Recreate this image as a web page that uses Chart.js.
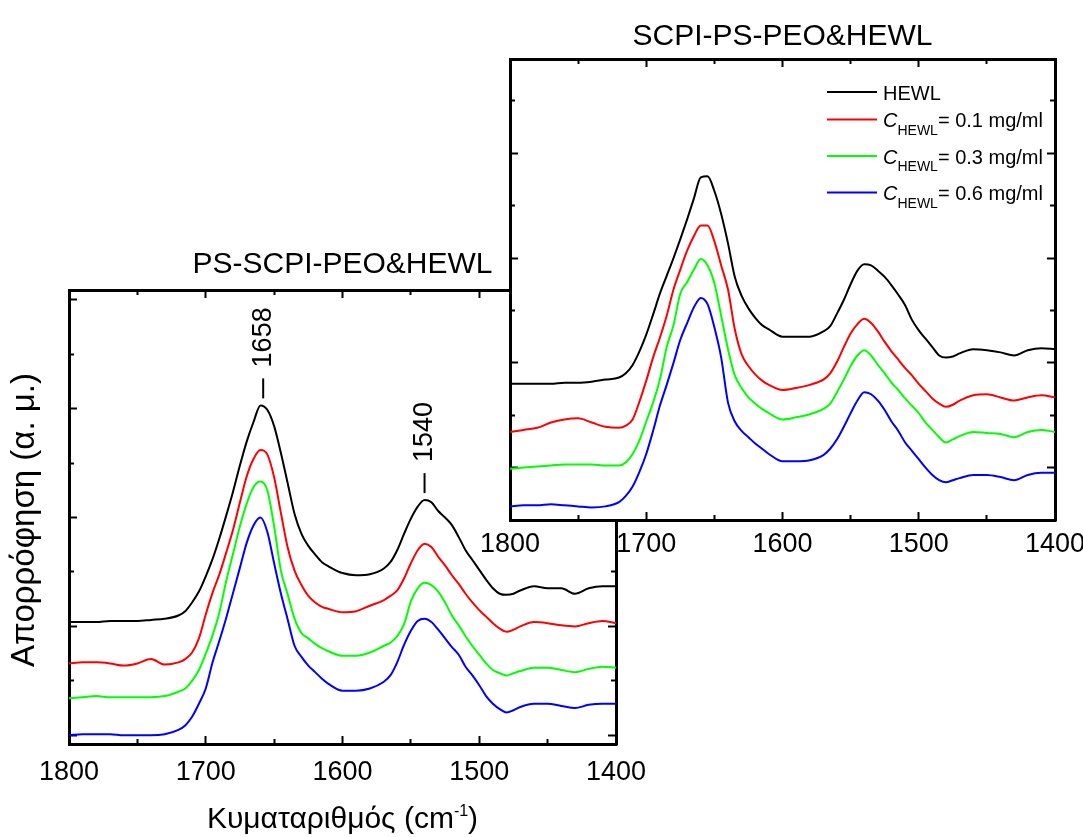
<!DOCTYPE html>
<html lang="el">
<head>
<meta charset="utf-8">
<title>FTIR HEWL</title>
<script src="https://cdn.jsdelivr.net/npm/chart.js@4.4.1/dist/chart.umd.min.js"></script>
<style>
  html, body { margin: 0; padding: 0; background: #fff; overflow: hidden; }
  #wrap { position: relative; width: 1083px; height: 837px; overflow: hidden; }
  #wrap canvas { position: absolute; left: 0; top: 0; }
</style>
</head>
<body>
<div id="wrap">
  <canvas id="chart-left" width="1083" height="837"></canvas>
  <canvas id="chart-right" width="1150" height="837"></canvas>
</div>
<script>
// ===== DATA =====

const wavenumbers = [
  1800, 1790, 1780, 1770, 1760, 1750, 1740, 1730, 1720,
  1715, 1710, 1705, 1700, 1695, 1690, 1685, 1680, 1675, 1670, 1665, 1660, 1655, 1650, 1645, 1640, 1635, 1630, 1625, 1620, 1615, 1610,
  1600, 1590, 1580, 1570,
  1565, 1560, 1555, 1550, 1545, 1540, 1535, 1530, 1525, 1520, 1515, 1510, 1505, 1500, 1495, 1490, 1485, 1480, 1475, 1470,
  1460, 1450, 1440, 1430, 1420, 1410, 1400,
];

// PS-SCPI-PEO&HEWL (left panel)
const leftHewl = [
  1.04, 1.04, 1.04, 1.05, 1.05, 1.05, 1.06, 1.07, 1.10,
  1.14, 1.22, 1.32, 1.46, 1.62, 1.81, 2.02, 2.24, 2.48, 2.70, 2.88, 3.03, 2.99, 2.84, 2.59, 2.31, 2.03, 1.85, 1.74, 1.66, 1.59, 1.55,
  1.49, 1.47, 1.48, 1.53,
  1.59, 1.70, 1.85, 1.99, 2.10, 2.16, 2.14, 2.06, 2.00, 1.93, 1.82, 1.70, 1.61, 1.52, 1.43, 1.35, 1.30, 1.29, 1.30, 1.33,
  1.37, 1.35, 1.35, 1.30, 1.35, 1.37, 1.37,
];
const leftC01 = [
  0.66, 0.67, 0.67, 0.66, 0.64, 0.66, 0.70, 0.65, 0.67,
  0.70, 0.76, 0.89, 1.11, 1.31, 1.48, 1.68, 1.89, 2.14, 2.38, 2.54, 2.62, 2.58, 2.37, 2.04, 1.72, 1.51, 1.38, 1.28, 1.22, 1.18, 1.16,
  1.13, 1.14, 1.19, 1.24,
  1.28, 1.33, 1.44, 1.58, 1.70, 1.76, 1.73, 1.64, 1.56, 1.47, 1.39, 1.30, 1.22, 1.15, 1.09, 1.03, 0.98, 0.95, 0.97, 1.00,
  1.04, 1.03, 1.01, 1.00, 1.03, 1.05, 1.03,
];
const leftC03 = [
  0.34, 0.35, 0.36, 0.35, 0.35, 0.35, 0.35, 0.36, 0.40,
  0.43, 0.50, 0.60, 0.75, 0.92, 1.13, 1.42, 1.67, 1.92, 2.13, 2.28, 2.33, 2.25, 1.92, 1.51, 1.29, 1.07, 0.94, 0.89, 0.84, 0.80, 0.77,
  0.73, 0.73, 0.76, 0.82,
  0.85, 0.91, 1.02, 1.23, 1.35, 1.40, 1.38, 1.32, 1.22, 1.10, 1.01, 0.91, 0.82, 0.74, 0.66, 0.60, 0.57, 0.55, 0.57, 0.59,
  0.62, 0.62, 0.60, 0.58, 0.61, 0.63, 0.62,
];
const leftC06 = [
  0.00, 0.01, 0.01, 0.01, 0.00, 0.00, 0.00, 0.01, 0.05,
  0.09, 0.17, 0.29, 0.43, 0.67, 0.87, 1.08, 1.31, 1.54, 1.77, 1.93, 2.00, 1.87, 1.58, 1.30, 1.06, 0.82, 0.72, 0.64, 0.58, 0.52, 0.47,
  0.41, 0.41, 0.43, 0.49,
  0.55, 0.67, 0.83, 0.96, 1.05, 1.07, 1.04, 0.97, 0.89, 0.81, 0.74, 0.63, 0.55, 0.46, 0.36, 0.29, 0.24, 0.21, 0.23, 0.26,
  0.29, 0.29, 0.27, 0.25, 0.28, 0.29, 0.29,
];

// SCPI-PS-PEO&HEWL (right panel)
const rightHewl = [
  0.80, 0.80, 0.80, 0.80, 0.81, 0.81, 0.82, 0.84, 0.86,
  0.90, 0.98, 1.11, 1.27, 1.46, 1.66, 1.83, 2.00, 2.18, 2.37, 2.57, 2.77, 2.78, 2.64, 2.42, 2.14, 1.82, 1.64, 1.52, 1.43, 1.36, 1.32,
  1.25, 1.25, 1.25, 1.30,
  1.35, 1.47, 1.60, 1.75, 1.88, 1.94, 1.93, 1.88, 1.82, 1.74, 1.65, 1.55, 1.41, 1.31, 1.23, 1.15, 1.07, 1.05, 1.06, 1.09,
  1.13, 1.12, 1.10, 1.07, 1.12, 1.14, 1.13,
];
const rightC01 = [
  0.34, 0.36, 0.38, 0.43, 0.46, 0.47, 0.43, 0.39, 0.38,
  0.40, 0.46, 0.63, 0.83, 1.05, 1.24, 1.45, 1.70, 1.89, 2.07, 2.21, 2.31, 2.31, 2.16, 1.93, 1.70, 1.32, 1.08, 0.97, 0.89, 0.83, 0.79,
  0.74, 0.76, 0.79, 0.84,
  0.90, 1.01, 1.15, 1.28, 1.37, 1.42, 1.38, 1.30, 1.20, 1.11, 1.03, 0.95, 0.88, 0.80, 0.73, 0.66, 0.61, 0.58, 0.60, 0.64,
  0.69, 0.70, 0.67, 0.64, 0.67, 0.69, 0.67,
];
const rightC03 = [
  -0.01, 0.00, 0.01, 0.02, 0.03, 0.03, 0.03, 0.02, 0.02,
  0.05, 0.13, 0.26, 0.44, 0.62, 0.84, 1.15, 1.36, 1.66, 1.77, 1.89, 1.99, 1.93, 1.76, 1.45, 1.13, 0.88, 0.76, 0.67, 0.61, 0.56, 0.52,
  0.46, 0.48, 0.51, 0.56,
  0.61, 0.72, 0.84, 0.97, 1.07, 1.12, 1.07, 0.98, 0.90, 0.81, 0.74, 0.66, 0.59, 0.52, 0.43, 0.36, 0.29, 0.24, 0.27, 0.30,
  0.34, 0.33, 0.32, 0.29, 0.34, 0.36, 0.34,
];
const rightC06 = [
  -0.37, -0.36, -0.36, -0.35, -0.36, -0.37, -0.38, -0.37, -0.33,
  -0.27, -0.18, -0.04, 0.13, 0.35, 0.59, 0.79, 1.00, 1.22, 1.38, 1.53, 1.62, 1.56, 1.34, 1.05, 0.62, 0.44, 0.35, 0.29, 0.23, 0.18, 0.13,
  0.06, 0.06, 0.07, 0.12,
  0.18, 0.27, 0.39, 0.52, 0.64, 0.72, 0.70, 0.64, 0.55, 0.44, 0.35, 0.24, 0.16, 0.08, 0.00, -0.07, -0.12, -0.14, -0.12, -0.10,
  -0.07, -0.07, -0.09, -0.12, -0.07, -0.05, -0.05,
];

const seriesLabels = ['HEWL', 'C_{HEWL}= 0.1 mg/ml', 'C_{HEWL}= 0.3 mg/ml', 'C_{HEWL}= 0.6 mg/ml'];
const seriesColors = ['#000000', '#ff0000', '#00ff00', '#0000ff'];

const xMajorTicks = [1800, 1700, 1600, 1500, 1400];
const xMinorTicks = [1750, 1650, 1550, 1450];
const leftYMajor = [0, 1, 2, 3, 4];
const leftYMinor = [0.5, 1.5, 2.5, 3.5];
const rightYMajor = [0, 1, 2, 3];
const rightYMinor = [0.5, 1.5, 2.5, 3.5];
const peakLabels = [1658, 1540];

const leftTitle = 'PS-SCPI-PEO&HEWL';
const rightTitle = 'SCPI-PS-PEO&HEWL';
const xTitle = 'Κυματαριθμός (cm';
const yTitle = 'Απορρόφηση (α. μ.)';

// ===== HELPERS =====

const FONT = '"Liberation Sans", Arial, sans-serif';
Chart.defaults.font.family = FONT;
Chart.defaults.color = '#000';

const points = (values) => wavenumbers.map((x, i) => ({ x, y: values[i] }));

function makeDatasets(series) {
    return series.map((values, i) => ({
        label: seriesLabels[i],
        data: points(values),
        borderColor: seriesColors[i],
        borderWidth: 2,
        pointRadius: 0,
        fill: false,
        cubicInterpolationMode: 'monotone',
        xAxisID: 'x',
        yAxisID: 'y',
    }));
}

// one scale per side for the long ticks (and frame), one more for the short ticks
function edge(position, min, max, ticks, len, extra, size = 0) {
    const horizontal = position === 'top' || position === 'bottom';
    return Object.assign({
        type: 'linear',
        position,
        min,
        max,
        reverse: horizontal,
        weight: len < 8 ? -1 : 0,
        afterBuildTicks: (s) => { s.ticks = ticks.map((value) => ({ value })); },
        afterFit: (s) => { if (horizontal) s.height = size; else s.width = size; },
        border: { display: false },
        grid: { drawOnChartArea: false, tickLength: -len, tickWidth: 2, tickColor: '#000' },
        ticks: { display: false },
    }, extra);
}

const LABEL_BAND = 60;

function frameScales(yMin, yMax, yMajor, yMinor, labelPadding) {
    const frame = { border: { display: true, color: '#000', width: 3 } };
    return {
        x: edge('bottom', 1400, 1800, xMajorTicks, 8, {
            ...frame,
            ticks: {
                display: true,
                autoSkip: false,
                maxRotation: 0,
                minRotation: 0,
                padding: labelPadding,
                color: '#000',
                font: { family: FONT, size: 27 },
                callback: (v) => String(v),
            },
        }, LABEL_BAND),
        xMinor: edge('bottom', 1400, 1800, xMinorTicks, 5),
        xTop: edge('top', 1400, 1800, xMajorTicks, 8, frame),
        xTopMinor: edge('top', 1400, 1800, xMinorTicks, 5),
        y: edge('left', yMin, yMax, yMajor, 8, frame),
        yMinor: edge('left', yMin, yMax, yMinor, 5),
        yRight: edge('right', yMin, yMax, yMajor, 8, frame),
        yRightMinor: edge('right', yMin, yMax, yMinor, 5),
    };
}

function drawRich(ctx, parts, x, y) {
    let total = 0;
    parts.forEach((p) => { ctx.font = p.font; p.w = ctx.measureText(p.text).width; total += p.w; });
    let cx = x - total / 2;
    ctx.textAlign = 'left';
    parts.forEach((p) => {
        ctx.font = p.font;
        ctx.fillText(p.text, cx, y + (p.dy || 0));
        cx += p.w;
    });
}

// ===== LEFT PANEL =====

const leftDecor = {
    id: 'leftDecor',
    afterDraw(chart) {
        const { ctx, chartArea: a, scales } = chart;
        const cx = (a.left + a.right) / 2;
        ctx.save();
        ctx.fillStyle = '#000';
        ctx.strokeStyle = '#000';
        ctx.textBaseline = 'alphabetic';

        ctx.font = `30px ${FONT}`;
        ctx.textAlign = 'center';
        ctx.fillText(leftTitle, cx, a.top - 17);

        drawRich(ctx, [
            { text: xTitle, font: `30px ${FONT}` },
            { text: '-1', font: `16px ${FONT}`, dy: -12 },
            { text: ')', font: `30px ${FONT}` },
        ], cx, a.bottom + 84);

        ctx.save();
        ctx.translate(34, (a.top + a.bottom) / 2 + 3);
        ctx.rotate(-Math.PI / 2);
        ctx.font = `33px ${FONT}`;
        ctx.textAlign = 'center';
        ctx.fillText(yTitle, 0, 0);
        ctx.restore();

        peakLabels.forEach((w) => {
            const near = wavenumbers.map((v, i) => (Math.abs(v - w) <= 5 ? leftHewl[i] : -Infinity));
            const top = scales.y.getPixelForValue(Math.max(...near));
            const x = scales.x.getPixelForValue(w);
            ctx.lineWidth = 2;
            ctx.beginPath();
            ctx.moveTo(x, top - 7);
            ctx.lineTo(x, top - 27);
            ctx.stroke();
            ctx.save();
            ctx.translate(x, top - 38);
            ctx.rotate(-Math.PI / 2);
            ctx.font = `27px ${FONT}`;
            ctx.textAlign = 'left';
            ctx.textBaseline = 'middle';
            ctx.fillText(String(w), 0, 0);
            ctx.restore();
        });
        ctx.restore();
    },
};

new Chart(document.getElementById('chart-left'), {
    type: 'line',
    data: { datasets: makeDatasets([leftHewl, leftC01, leftC03, leftC06]) },
    options: {
        responsive: false,
        animation: false,
        devicePixelRatio: 1,
        events: [],
        layout: { autoPadding: false, padding: { left: 69, top: 290, right: 1083 - 616, bottom: 837 - 744 - LABEL_BAND } },
        plugins: { legend: { display: false }, tooltip: { enabled: false } },
        scales: frameScales(-0.08, 4.09, leftYMajor, leftYMinor, 20),
    },
    plugins: [leftDecor],
});

// ===== RIGHT PANEL =====

const rightDecor = {
    id: 'rightDecor',
    beforeDraw(chart) {
        const { ctx, chartArea: a } = chart;
        ctx.save();
        ctx.fillStyle = '#fff';
        ctx.fillRect(a.left, a.top, a.width, a.height);
        ctx.restore();
    },
    afterDraw(chart) {
        const { ctx, chartArea: a } = chart;
        ctx.save();
        ctx.fillStyle = '#000';
        ctx.textBaseline = 'alphabetic';
        ctx.font = `30px ${FONT}`;
        ctx.textAlign = 'center';
        ctx.fillText(rightTitle, (a.left + a.right) / 2, a.top - 14);

        const rows = [33, 60.5, 97, 133.5];
        chart.data.datasets.forEach((ds, i) => {
            const y = a.top + rows[i];
            ctx.strokeStyle = ds.borderColor;
            ctx.lineWidth = 2;
            ctx.beginPath();
            ctx.moveTo(a.right - 228, y);
            ctx.lineTo(a.right - 178, y);
            ctx.stroke();

            let x = a.right - 172;
            ctx.textAlign = 'left';
            const m = ds.label.match(/^(\w)_\{(\w+)\}(.*)$/);
            const parts = m
                ? [[m[1], `italic 20px ${FONT}`, 7.5], [m[2], `14px ${FONT}`, 15], [m[3], `20px ${FONT}`, 7.5]]
                : [[ds.label, `20px ${FONT}`, 7.5]];
            parts.forEach(([text, font, dy]) => {
                ctx.font = font;
                ctx.fillText(text, x, y + dy);
                x += ctx.measureText(text).width;
            });
        });
        ctx.restore();
    },
};

new Chart(document.getElementById('chart-right'), {
    type: 'line',
    data: { datasets: makeDatasets([rightHewl, rightC01, rightC03, rightC06]) },
    options: {
        responsive: false,
        animation: false,
        devicePixelRatio: 1,
        events: [],
        layout: { autoPadding: false, padding: { left: 510, top: 59, right: 1150 - 1055, bottom: 837 - 520 - LABEL_BAND } },
        plugins: { legend: { display: false }, tooltip: { enabled: false } },
        scales: frameScales(-0.5, 3.9, rightYMajor, rightYMinor, 16),
    },
    plugins: [rightDecor],
});
</script>
</body>
</html>
